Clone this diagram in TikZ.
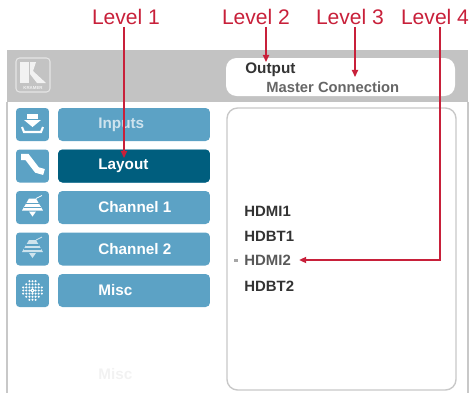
\documentclass[tikz,border=0pt]{standalone}
\usepackage{fontspec}
\setmainfont{Liberation Sans}
\usetikzlibrary{arrows.meta, positioning}
\definecolor{lvlred}{HTML}{C8203A}
\definecolor{btnblue}{HTML}{5CA2C5}
\definecolor{btndark}{HTML}{005E7E}
\definecolor{hdrgray}{HTML}{C3C3C3}
\definecolor{linegray}{HTML}{C8C8C8}
\definecolor{txtdark}{HTML}{333333}

\begin{document}
\begin{tikzpicture}[x=0.02cm, y=-0.02cm,
        lvl/.style={text=lvlred, font=\fontsize{12}{14}\selectfont, inner sep=1pt},
        lvlarrow/.style={draw=lvlred, line width=0.75pt, -{Triangle[length=4pt, width=3.5pt]}},
        btn/.style={fill=btnblue, rounded corners=2.5pt, minimum width=3.04cm, minimum height=0.66cm, inner sep=0},
        ico/.style={fill=btnblue, rounded corners=2pt, minimum width=0.66cm, minimum height=0.66cm, inner sep=0},
        btntxt/.style={anchor=west, text=white, font=\fontsize{8.7}{10}\selectfont\bfseries, inner sep=0},
        port/.style={anchor=west, text=txtdark, font=\fontsize{8.5}{10}\selectfont\bfseries, inner sep=0}]
    \useasboundingbox (0,0) rectangle (473,393);
    \fill[hdrgray] (7,50) rectangle (468,102);
    \draw[linegray, line width=0.6pt] (7,102) -- (7,393) (468,102) -- (468,393);
    \draw[white!90!black, line width=0.6pt, rounded corners=2pt] (16,58) rectangle (50,92);
    \fill[white!95!black] (20,62) rectangle (29,83);
    \fill[white!95!black] (30,62) -- (36,62) -- (33,71) -- (46,83) -- (37,83) -- (30,74) -- cycle;
    \node[text=white!95!black, font=\fontsize{2.5}{3}\selectfont\bfseries, inner sep=0] (kramer) at (33,88) {KRAMER};
    \fill[white, rounded corners=6pt] (226,58) rectangle (455,96);
    \draw[linegray, line width=0.8pt, rounded corners=6pt] (227,108) rectangle (456,390);
    \node[anchor=west, text=txtdark, font=\fontsize{8.7}{10}\selectfont\bfseries, inner sep=0] (out) at (245,70) {Output};
    \node[anchor=west, text=black!60, font=\fontsize{8.4}{10}\selectfont\bfseries, inner sep=0] (mc) at (266,87) {Master Connection};
    \foreach \i/\n in {0/inputs, 1/layout, 2/chone, 3/chtwo, 4/misc} {
        \node[ico] (ico-\n) at (32.5,124.5+41.5*\i) {};
        \node[btn] (btn-\n) at (134,124.5+41.5*\i) {};
    }
    \node[btn, fill=btndark] at (btn-layout) {};
    \node[btntxt, text=white!70!btnblue] (t-inputs) at (98,124.5) {Inputs};
    \node[btntxt] (t-layout) at (98,166) {Layout};
    \node[btntxt] (t-chone) at (98,207.5) {Channel 1};
    \node[btntxt] (t-chtwo) at (98,249) {Channel 2};
    \node[btntxt] (t-misc) at (98,290.5) {Misc};
    \node[btntxt, text=black!5] (t-ghost) at (98,374) {Misc};
    \fill[white] (27,114) rectangle (38,119);
    \fill[white] (24,120) -- (41,120) -- (32.5,127) -- cycle;
    \draw[white, line width=1.2pt] (22,127) -- (24,132) -- (41,132) -- (43,127);
    \draw[white, line width=3.5pt] (21,157) -- (27,157) -- (37,170) -- (44,172);
    \foreach \y/\o in {207.5/100, 249/70} {
        \fill[white, opacity=\o/100] (29,\y-9) -- (36,\y-9) -- (43,\y+3) -- (22,\y+3) -- cycle;
        \draw[btnblue, line width=0.6pt] (26,\y-4) -- (39,\y-4) (24,\y) -- (41,\y);
        \fill[white, opacity=\o/100] (29,\y+4) -- (36,\y+4) -- (32.5,\y+9) -- cycle;
        \draw[white, opacity=\o/100, line width=0.5pt] (36,\y-9) -- (42,\y-12);
    }
    \foreach \u in {-3,...,3} {
        \foreach \v in {-3,...,3} {
            \pgfmathtruncatemacro{\rr}{\u*\u+\v*\v}
            \ifnum\rr<12 \ifnum\rr>0
                \fill[white] (32.5+3.1*\u,290.5+3.1*\v) circle (1.15);
            \fi\fi
        }
    }
    \draw[white, line width=0.6pt] (32.5,290.5) circle (1.6);
    \node[port] (hdmi1) at (244,211) {HDMI1};
    \node[port] (hdbt1) at (244,236) {HDBT1};
    \node[port, text=black!65] (hdmi2) at (244,260) {HDMI2};
    \node[port] (hdbt2) at (244,286) {HDBT2};
    \fill[black!35] (233.5,258.5) rectangle (237.5,262);
    \node[lvl] (lvl1) at (126,17) {Level 1};
    \node[lvl] (lvl2) at (256,17) {Level 2};
    \node[lvl] (lvl3) at (350,17) {Level 3};
    \node[lvl] (lvl4) at (435,17) {Level 4};
    \coordinate (p1) at (124,158);
    \coordinate (p2) at (266,62);
    \coordinate (p3) at (355,77);
    \coordinate (p4) at (440,260);
    \draw[lvlarrow] (lvl1.south -| p1) -- (p1);
    \draw[lvlarrow] (lvl2.south -| p2) -- (p2);
    \draw[lvlarrow] (lvl3.south -| p3) -- (p3);
    \draw[lvlarrow] (lvl4.south -| p4) -- (p4) -- ([xshift=0.16cm]hdmi2.east);
\end{tikzpicture}
\end{document}
